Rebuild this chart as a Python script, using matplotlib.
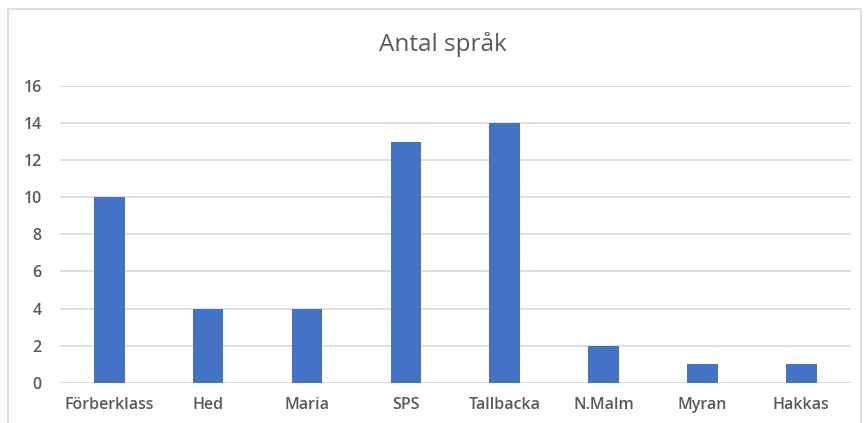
import matplotlib.pyplot as plt
from matplotlib.patches import Rectangle

# Data
schools = ["Förberklass", "Hed", "Maria", "SPS", "Tallbacka", "N.Malm", "Myran", "Hakkas"]
languages = [10, 4, 4, 13, 14, 2, 1, 1]
yticks = [0, 2, 4, 6, 8, 10, 12, 14, 16]

plt.rcParams["font.family"] = ["Open Sans", "DejaVu Sans"]
text_col = "#595959"
grid_col = "#D9D9D9"

fig = plt.figure(figsize=(8.68, 4.23), dpi=100)
ax = fig.add_axes([0.069, 0.095, 0.911, 0.702])

x = range(len(schools))
ax.bar(x, languages, width=0.31, color="#4472C4", zorder=3)

ax.set_xlim(-0.5, len(schools) - 0.5)
ax.set_ylim(0, 16)
ax.set_yticks(yticks)
ax.set_xticks(list(x))
ax.set_xticklabels(schools)
ax.grid(axis="y", color=grid_col, linewidth=1.2, zorder=0)
for s in ax.spines.values():
    s.set_visible(False)
ax.tick_params(length=0, labelsize=11.5, colors=text_col, pad=10)
ax.tick_params(axis="y", pad=13)
for lab in ax.get_xticklabels() + ax.get_yticklabels():
    lab.set_fontweight("semibold")

fig.text(0.51, 0.895, "Antal språk", ha="center", va="center", fontsize=17.5, color=text_col)

# chart border
fig.patches.append(Rectangle((0.0095, -0.05), 0.982, 1.028, transform=fig.transFigure,
                             fill=False, edgecolor="#D9D9D9", linewidth=1.2))

fig.savefig("out.png", dpi=100)
